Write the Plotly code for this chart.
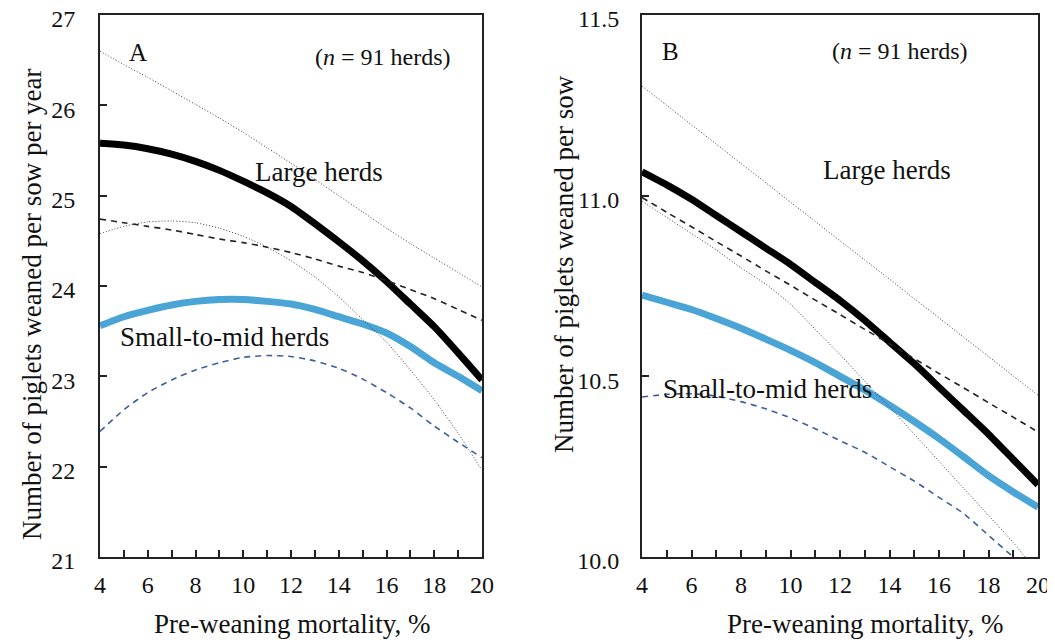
import plotly.graph_objects as go

# ---------------- data ----------------
mortality = [4, 5, 6, 7, 8, 9, 10, 11, 12, 13, 14, 15, 16, 17, 18, 19, 20]

# Panel A: piglets weaned per sow per year
a_large_mean = [25.58, 25.56, 25.52, 25.46, 25.38, 25.28, 25.16, 25.03, 24.88, 24.69, 24.49, 24.28, 24.05, 23.80, 23.55, 23.26, 22.96]
a_large_upper = [26.60, 26.45, 26.31, 26.16, 26.01, 25.86, 25.70, 25.53, 25.36, 25.18, 25.00, 24.82, 24.64, 24.47, 24.31, 24.15, 23.99]
a_large_lower = [24.58, 24.66, 24.71, 24.72, 24.70, 24.64, 24.55, 24.43, 24.28, 24.10, 23.88, 23.63, 23.38, 23.07, 22.74, 22.37, 21.96]
a_small_mean = [23.56, 23.66, 23.73, 23.79, 23.83, 23.85, 23.85, 23.83, 23.80, 23.74, 23.66, 23.58, 23.48, 23.33, 23.15, 23.00, 22.84]
a_small_upper = [24.74, 24.70, 24.66, 24.62, 24.57, 24.52, 24.48, 24.43, 24.37, 24.30, 24.22, 24.15, 24.06, 23.96, 23.86, 23.74, 23.62]
a_small_lower = [22.39, 22.63, 22.82, 22.96, 23.07, 23.15, 23.21, 23.23, 23.22, 23.17, 23.09, 22.97, 22.82, 22.65, 22.45, 22.27, 22.10]

# Panel B: piglets weaned per sow
b_large_mean = [11.066, 11.030, 10.990, 10.945, 10.900, 10.855, 10.810, 10.760, 10.710, 10.655, 10.595, 10.535, 10.470, 10.405, 10.340, 10.270, 10.200]
b_large_upper = [11.303, 11.250, 11.196, 11.143, 11.089, 11.036, 10.982, 10.929, 10.875, 10.822, 10.769, 10.715, 10.662, 10.608, 10.555, 10.501, 10.448]
b_large_lower = [10.985, 10.940, 10.895, 10.850, 10.800, 10.755, 10.700, 10.630, 10.560, 10.487, 10.415, 10.340, 10.265, 10.190, 10.115, 10.040, 9.955]
b_small_mean = [10.725, 10.705, 10.685, 10.660, 10.633, 10.603, 10.572, 10.538, 10.500, 10.462, 10.420, 10.375, 10.328, 10.277, 10.225, 10.180, 10.138]
b_small_upper = [10.995, 10.954, 10.914, 10.873, 10.833, 10.792, 10.752, 10.711, 10.671, 10.630, 10.590, 10.549, 10.508, 10.468, 10.427, 10.387, 10.346]
b_small_lower = [10.443, 10.450, 10.452, 10.445, 10.430, 10.410, 10.385, 10.355, 10.322, 10.290, 10.250, 10.210, 10.165, 10.120, 10.060, 10.000, 9.940]

x_title = "Pre-weaning mortality, %"
a_y_title = "Number of piglets weaned per sow per year"
b_y_title = "Number of piglets weaned per sow"
n_label = "(<i>n</i> = 91 herds)"

# ---------------- styles ----------------
FONT = "Liberation Serif"
BLACK = "#000000"
BLUE = "#4aa5d6"
NAVY = "#3d5f98"
THIN = "#3a3a3a"
TXT = "#111111"

fig = go.Figure()


def add_panel(xa, ya, large_mean, large_up, large_lo, small_mean, small_up, small_lo):
    fig.add_trace(go.Scatter(x=mortality, y=large_mean, mode="lines", xaxis=xa, yaxis=ya,
                             line=dict(color=BLACK, width=7, shape="spline", smoothing=0.6)))
    fig.add_trace(go.Scatter(x=mortality, y=small_mean, mode="lines", xaxis=xa, yaxis=ya,
                             line=dict(color=BLUE, width=7, shape="spline", smoothing=0.6)))
    fig.add_trace(go.Scatter(x=mortality, y=large_up, mode="lines", xaxis=xa, yaxis=ya,
                             line=dict(color=THIN, width=1, dash="1px,2px", shape="spline", smoothing=0.6)))
    fig.add_trace(go.Scatter(x=mortality, y=large_lo, mode="lines", xaxis=xa, yaxis=ya,
                             line=dict(color=THIN, width=1, dash="1px,2px", shape="spline", smoothing=0.6)))
    fig.add_trace(go.Scatter(x=mortality, y=small_up, mode="lines", xaxis=xa, yaxis=ya,
                             line=dict(color="#222222", width=1.6, dash="6px,5px", shape="spline", smoothing=0.6)))
    fig.add_trace(go.Scatter(x=mortality, y=small_lo, mode="lines", xaxis=xa, yaxis=ya,
                             line=dict(color=NAVY, width=1.6, dash="6px,5px", shape="spline", smoothing=0.6)))


add_panel("x", "y", a_large_mean, a_large_upper, a_large_lower, a_small_mean, a_small_upper, a_small_lower)
add_panel("x2", "y2", b_large_mean, b_large_upper, b_large_lower, b_small_mean, b_small_upper, b_small_lower)

# page body has an 8px offset; figure pixels = reference pixels - 8
OFF = 8
W, H = 1055 - OFF, 642 - OFF
ML, MR, MT, MB = 100 - OFF, 17, 15 - OFF, 85
PW = W - ML - MR
PH = H - MT - MB


def px_x(p):
    return (p - OFF - ML) / PW


def px_y(p):
    return 1 - (p - OFF - MT) / PH


axis_common = dict(showgrid=False, zeroline=False, showline=True, linecolor="#222222", linewidth=2,
                   mirror=True, ticks="inside", ticklen=7, tickwidth=1.5, tickcolor="#222222",
                   automargin=False, ticklabeloverflow="allow",
                   tickfont=dict(family=FONT, size=24, color=TXT))
minor_x = dict(dtick=1, ticks="inside", ticklen=7, tickwidth=1.5, tickcolor="#222222")

fig.update_layout(
    width=W, height=H,
    margin=dict(l=ML, r=MR, t=MT, b=MB, autoexpand=False),
    paper_bgcolor="white", plot_bgcolor="white",
    showlegend=False,
    font=dict(family=FONT, size=24, color=TXT),
    xaxis=dict(domain=[0, px_x(482)], range=[4, 20], tick0=4, dtick=2, minor=minor_x,
               ticklabelstandoff=5, **axis_common),
    yaxis=dict(domain=[0, 1], range=[21, 27], dtick=1, ticklabelstandoff=18, ticklabelshift=4,
               **axis_common),
    xaxis2=dict(domain=[px_x(642), 1], range=[4, 20], tick0=4, dtick=2, anchor="y2", minor=minor_x,
                ticklabelstandoff=5, **axis_common),
    yaxis2=dict(domain=[0, 1], range=[10, 11.5], dtick=0.5, tickformat=".1f", anchor="x2",
                ticklabelstandoff=16, ticklabelshift=4, **axis_common),
)

ann_font = dict(family=FONT, size=27, color=TXT)
small_font = dict(family=FONT, size=24, color=TXT)
letter_font = dict(family=FONT, size=25, color=TXT)
title_font = dict(family=FONT, size=27, color=TXT)
ytitle_font = dict(family=FONT, size=27, color=TXT)
annotations = [
    # panel A
    dict(x=5.59, y=26.59, xref="x", yref="y", text="A", font=letter_font),
    dict(x=15.84, y=26.53, xref="x", yref="y", text=n_label, font=small_font),
    dict(x=13.18, y=25.26, xref="x", yref="y", text="Large herds", font=ann_font),
    dict(x=9.2, y=23.43, xref="x", yref="y", text="Small-to-mid herds", font=ann_font),
    # panel B
    dict(x=5.14, y=11.40, xref="x2", yref="y2", text="B", font=letter_font),
    dict(x=14.41, y=11.40, xref="x2", yref="y2", text=n_label, font=small_font),
    dict(x=13.89, y=11.07, xref="x2", yref="y2", text="Large herds", font=ann_font),
    dict(x=9.08, y=10.465, xref="x2", yref="y2", text="Small-to-mid herds", font=ann_font),
    # axis titles
    dict(x=px_x(292), y=px_y(624), xref="paper", yref="paper", text=x_title, font=title_font),
    dict(x=px_x(865), y=px_y(624), xref="paper", yref="paper", text=x_title, font=title_font),
    dict(x=px_x(32), y=px_y(304), xref="paper", yref="paper", text=a_y_title, textangle=-90, font=ytitle_font),
    dict(x=px_x(564), y=px_y(264), xref="paper", yref="paper", text=b_y_title, textangle=-90, font=ytitle_font),
]
for a in annotations:
    a.update(showarrow=False, xanchor="center", yanchor="middle")
fig.update_layout(annotations=annotations)

fig.write_html("out.html")
